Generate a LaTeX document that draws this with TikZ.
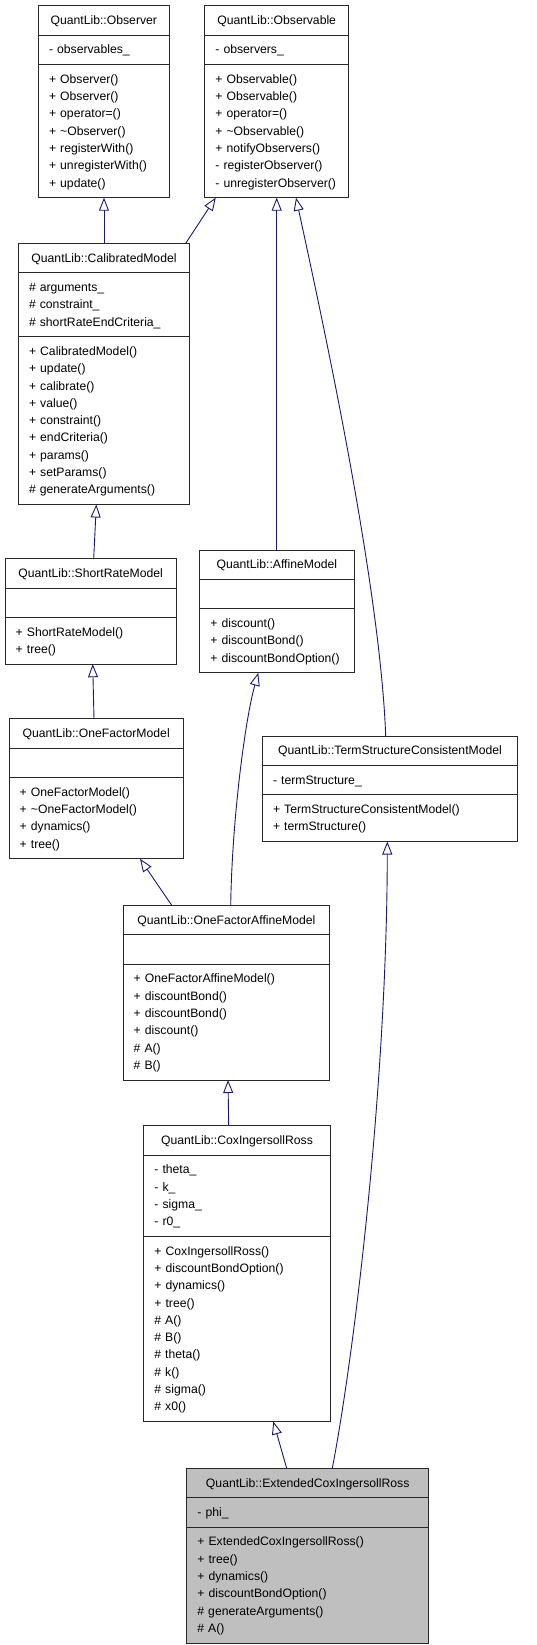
\documentclass[tikz,border=0pt]{standalone}
\usepackage{fontspec}
\setmainfont{Liberation Sans}
\usetikzlibrary{arrows.meta,shapes.multipart}
\definecolor{edgenavy}{RGB}{25,25,112}
\definecolor{boxline}{RGB}{40,40,40}
\newcommand\rowstrut{\rule[-4.6pt]{0pt}{17.3pt}}
\newcommand\rows[1]{\rowstrut#1\rowstrut}
\newcommand\ctitle[1]{\hbox to\hsize{\hss\rowstrut#1\hss}}

\begin{document}
\begin{tikzpicture}[x=1pt, y=-1pt,
  every node/.style={font=\fontsize{12.2}{17.3}\selectfont},
  classbox/.style={draw=boxline, line width=1pt, rectangle split, rectangle split parts=3,
    anchor=north west, inner xsep=10.7pt, inner ysep=5.55pt, outer sep=0pt,
    align=left, text width=#1},
  inherit/.style={edgenavy, line width=0.9pt, {Triangle[open, length=13pt, width=10pt]}-}]
  \useasboundingbox (0,0) rectangle (536,1645);
  % Observer / Observable
  \node[classbox=109.6pt] (obsr) at (38.3,5.7) {\ctitle{QuantLib::Observer}
    \nodepart{two}\rows{- observables\_}
    \nodepart{three}\rows{+ Observer()\\+ Observer()\\+ operator=()\\+ \textasciitilde Observer()\\+ registerWith()\\+ unregisterWith()\\+ update()}};
  \node[classbox=122.6pt] (obsv) at (204.7,5.7) {\ctitle{QuantLib::Observable}
    \nodepart{two}\rows{- observers\_}
    \nodepart{three}\rows{+ Observable()\\+ Observable()\\+ operator=()\\+ \textasciitilde Observable()\\+ notifyObservers()\\- registerObserver()\\- unregisterObserver()}};
  % calibrated chain
  \node[classbox=150pt] (calib) at (18.3,243.3) {\ctitle{QuantLib::CalibratedModel}
    \nodepart{two}\rows{\# arguments\_\\\# constraint\_\\\# shortRateEndCriteria\_}
    \nodepart{three}\rows{+ CalibratedModel()\\+ update()\\+ calibrate()\\+ value()\\+ constraint()\\+ endCriteria()\\+ params()\\+ setParams()\\\# generateArguments()}};
  \node[classbox=149.9pt] (srm) at (5,558.7) {\ctitle{QuantLib::ShortRateModel}
    \nodepart{two}\rowstrut
    \nodepart{three}\rows{+ ShortRateModel()\\+ tree()}};
  \node[classbox=152.9pt] (ofm) at (9,718.7) {\ctitle{QuantLib::OneFactorModel}
    \nodepart{two}\rowstrut
    \nodepart{three}\rows{+ OneFactorModel()\\+ \textasciitilde OneFactorModel()\\+ dynamics()\\+ tree()}};
  % affine + term structure
  \node[classbox=132.9pt] (affine) at (199.7,550) {\ctitle{QuantLib::AffineModel}
    \nodepart{two}\rowstrut
    \nodepart{three}\rows{+ discount()\\+ discountBond()\\+ discountBondOption()}};
  \node[classbox=234pt] (tscm) at (262.3,736) {\ctitle{QuantLib::TermStructureConsistentModel}
    \nodepart{two}\rows{- termStructure\_}
    \nodepart{three}\rows{+ TermStructureConsistentModel()\\+ termStructure()}};
  \node[classbox=185.3pt] (ofam) at (123,905.3) {\ctitle{QuantLib::OneFactorAffineModel}
    \nodepart{two}\rowstrut
    \nodepart{three}\rows{+ OneFactorAffineModel()\\+ discountBond()\\+ discountBond()\\+ discount()\\\# A()\\\# B()}};
  % CIR and the extended one
  \node[classbox=165.2pt] (cir) at (143.7,1125.7) {\ctitle{QuantLib::CoxIngersollRoss}
    \nodepart{two}\rows{- theta\_\\- k\_\\- sigma\_\\- r0\_}
    \nodepart{three}\rows{+ CoxIngersollRoss()\\+ discountBondOption()\\+ dynamics()\\+ tree()\\\# A()\\\# B()\\\# theta()\\\# k()\\\# sigma()\\\# x0()}};
  \node[classbox=220.6pt, fill=gray!50] (ecir) at (186.7,1468.3) {\ctitle{QuantLib::ExtendedCoxIngersollRoss}
    \nodepart{two}\rows{- phi\_}
    \nodepart{three}\rows{+ ExtendedCoxIngersollRoss()\\+ tree()\\+ dynamics()\\+ discountBondOption()\\\# generateArguments()\\\# A()}};
  % inheritance
  \draw[inherit] (obsr.south -| 104,0) -- (calib.north -| 104,0);
  \draw[inherit] (obsv.south -| 215.7,0) -- (calib.north -| 185.7,0);
  \draw[inherit] (obsv.south -| 276.7,0) -- (affine.north -| 276.7,0);
  \draw[inherit] (obsv.south -| 296,0) .. controls (318,300) and (380,580) .. (tscm.north -| 385.7,0);
  \draw[inherit] (calib.south -| 96.3,0) -- (srm.north -| 93.7,0);
  \draw[inherit] (srm.south -| 92.7,0) -- (ofm.north -| 94,0);
  \draw[inherit] (affine.south -| 258.3,0) .. controls (245,720) and (232,820) .. (ofam.north -| 230.7,0);
  \draw[inherit] (ofm.south -| 140,0) -- (ofam.north -| 171.7,0);
  \draw[inherit] (tscm.south -| 387.3,0) .. controls (387,1080) and (355,1350) .. (ecir.north -| 332.3,0);
  \draw[inherit] (ofam.south -| 228,0) -- (cir.north -| 228.7,0);
  \draw[inherit] (cir.south -| 273.3,0) -- (ecir.north -| 286.7,0);
\end{tikzpicture}
\end{document}
